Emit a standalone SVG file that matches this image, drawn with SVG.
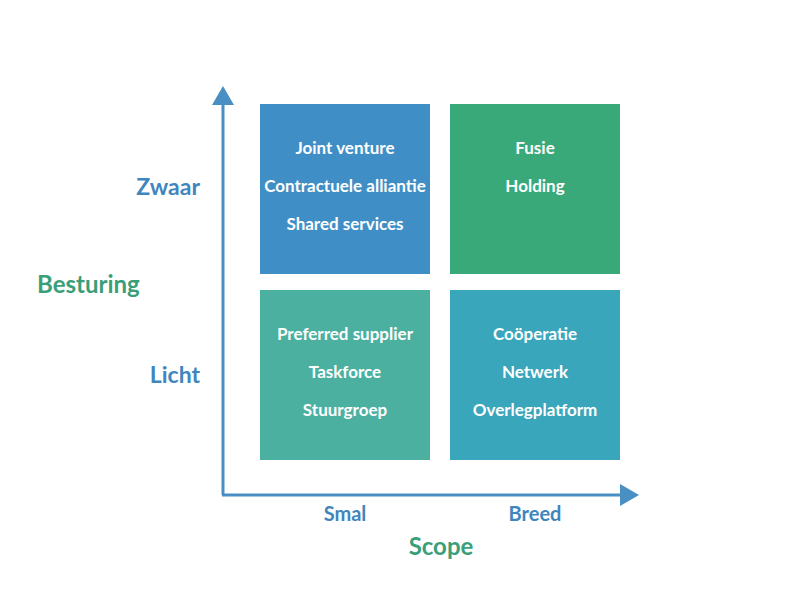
<svg xmlns="http://www.w3.org/2000/svg" width="792" height="600" viewBox="0 0 792 600">
<style>
.box text{font-family:Lato,"Open Sans","Liberation Sans",sans-serif;font-weight:bold;font-size:17px;fill:#fff;text-anchor:middle}
.lbl{font-family:Lato,"Open Sans","Liberation Sans",sans-serif;font-weight:bold}
.ax{stroke:#4a8fc4;stroke-width:3;fill:none}
.blue{fill:#3f86be}
.green{fill:#3a9f78}
</style>
<rect width="792" height="600" fill="#fff"/>
<g id="axes">
<line class="ax" x1="223" y1="495" x2="223" y2="102"/>
<polygon points="223,86 212,105 234,105" fill="#4a8fc4"/>
<line class="ax" x1="222" y1="495" x2="624" y2="495"/>
<polygon points="639,495 620,484 620,506" fill="#4a8fc4"/>
</g>
<g id="tl" class="box">
<rect x="260" y="104" width="170" height="170" fill="#3f8fc6"/>
<text x="345" y="154">Joint venture</text>
<text x="345" y="192">Contractuele alliantie</text>
<text x="345" y="230">Shared services</text>
</g>
<g id="tr" class="box">
<rect x="450" y="104" width="170" height="170" fill="#3aa97a"/>
<text x="535" y="154">Fusie</text>
<text x="535" y="192">Holding</text>
</g>
<g id="bl" class="box">
<rect x="260" y="290" width="170" height="170" fill="#4bb09f"/>
<text x="345" y="340">Preferred supplier</text>
<text x="345" y="378">Taskforce</text>
<text x="345" y="416">Stuurgroep</text>
</g>
<g id="br" class="box">
<rect x="450" y="290" width="170" height="170" fill="#3aa6bb"/>
<text x="535" y="340">Coöperatie</text>
<text x="535" y="378">Netwerk</text>
<text x="535" y="416">Overlegplatform</text>
</g>
<g id="labels">
<text class="lbl blue" x="200" y="195" font-size="23" text-anchor="end">Zwaar</text>
<text class="lbl green" x="37" y="293" font-size="24">Besturing</text>
<text class="lbl blue" x="200" y="383" font-size="23" text-anchor="end">Licht</text>
<text class="lbl blue" x="345" y="521" font-size="20" text-anchor="middle">Smal</text>
<text class="lbl blue" x="535" y="521" font-size="20" text-anchor="middle">Breed</text>
<text class="lbl green" x="441" y="555" font-size="24" text-anchor="middle">Scope</text>
</g>
</svg>
